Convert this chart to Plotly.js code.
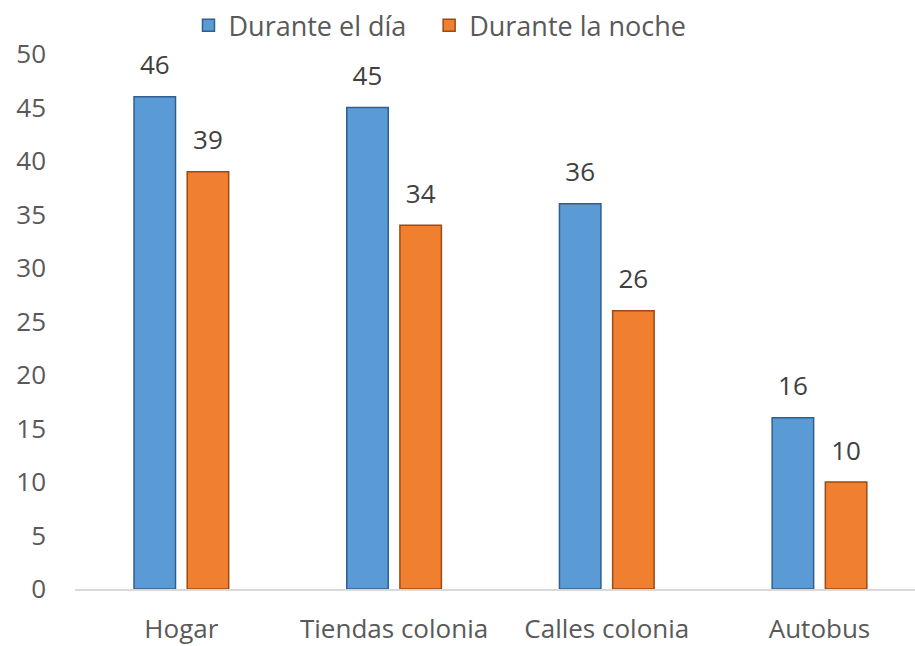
<!DOCTYPE html>
<html>
<head>
<meta charset="utf-8">
<script src="https://cdn.plot.ly/plotly-3.0.1.min.js"></script>
<style>html,body{margin:0;padding:0;background:#fff;}#chart{width:915px;height:646px;}</style>
</head>
<body>
<div id="chart"></div>
<script>
const categories = ['Hogar', 'Tiendas colonia', 'Calles colonia', 'Autobus'];
const seriesNames = ['Durante el día', 'Durante la noche'];
const dayValues = [46, 45, 36, 16];
const nightValues = [39, 34, 26, 10];
const yTicks = [0, 5, 10, 15, 20, 25, 30, 35, 40, 45, 50];

const FONT = 'Open Sans, Lato, sans-serif';
const TXT = '#595959';
const colors = ['#5B9BD5', '#F0802F'];
const edges = ['#2E5F8E', '#9A4A12'];
const values = [dayValues, nightValues];
const legendIds = ['legend', 'legend2'];

const traces = [];
values.forEach((vals, i) => {
  traces.push({
    type: 'bar', name: seriesNames[i], x: categories, y: vals,
    offsetgroup: String(i), legend: legendIds[i],
    marker: {color: colors[i], line: {color: edges[i], width: 1.5}},
    hoverinfo: 'skip'
  });
});
values.forEach((vals, i) => {
  traces.push({
    type: 'scatter', mode: 'markers+text', x: categories, y: vals,
    offsetgroup: String(i), showlegend: false,
    marker: {size: 24, color: 'rgba(0,0,0,0)'},
    text: vals.map(String), textposition: 'top center',
    textfont: {family: FONT, size: 26, color: '#404040'},
    cliponaxis: false, hoverinfo: 'skip'
  });
});

const legendBase = {orientation: 'h', xanchor: 'left', y: 0.998, yanchor: 'top',
  xref: 'container', yref: 'container', bgcolor: 'rgba(0,0,0,0)',
  font: {family: FONT, size: 27, color: TXT}, itemwidth: 30};

const layout = {
  width: 915, height: 646,
  margin: {l: 75, r: 0, t: 54, b: 57},
  paper_bgcolor: '#fff', plot_bgcolor: '#fff',
  barmode: 'group', scattermode: 'group',
  bargap: 0.5, bargroupgap: 0.22,
  font: {family: FONT, color: TXT, size: 26},
  showlegend: true,
  legend: Object.assign({}, legendBase, {x: 0.206}),
  legend2: Object.assign({}, legendBase, {x: 0.469}),
  xaxis: {type: 'category', range: [-0.5, 3.449], showgrid: false, zeroline: false,
          showline: true, linecolor: '#D9D9D9', linewidth: 1.5, ticks: '',
          ticklabelstandoff: 16, tickfont: {family: FONT, size: 26, color: TXT}},
  yaxis: {range: [0, 50], tickvals: yTicks, showgrid: false, zeroline: false,
          showline: false, ticks: '', ticklabelstandoff: 28,
          tickfont: {family: FONT, size: 26, color: TXT}}
};

Plotly.newPlot('chart', traces, layout, {displayModeBar: false, staticPlot: true});
</script>
</body>
</html>
